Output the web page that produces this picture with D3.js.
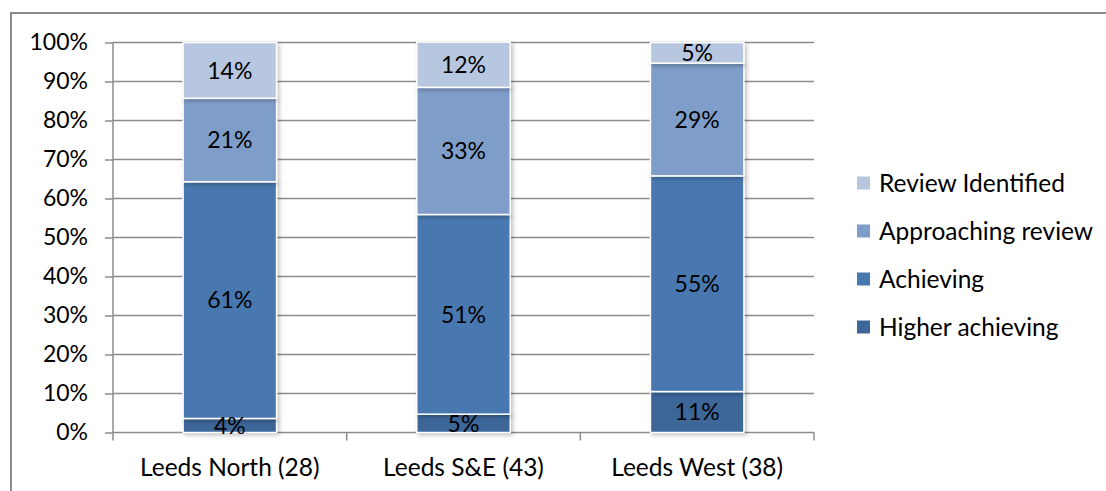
<!DOCTYPE html>
<html>
<head>
<meta charset="utf-8">
<script src="https://cdn.jsdelivr.net/npm/d3@7"></script>
<style>
  html, body { margin: 0; padding: 0; background: #fff; }
  svg { display: block; font-family: Lato, "Open Sans", sans-serif; }
</style>
</head>
<body>
<svg id="chart" width="1106" height="491"></svg>
<script>
// ---- data (percent of pupils per area) ----
const categories = ["Leeds North (28)", "Leeds S&E (43)", "Leeds West (38)"];
const seriesNames = ["Higher achieving", "Achieving", "Approaching review", "Review Identified"];
const higherAchieving = [3.6, 4.7, 10.5];
const achieving = [60.7, 51.2, 55.3];
const approachingReview = [21.4, 32.6, 28.9];
const reviewIdentified = [14.3, 11.6, 5.3];
const yTickValues = [0, 10, 20, 30, 40, 50, 60, 70, 80, 90, 100];

const colors = {
  "Higher achieving": "#3d6699",
  "Achieving": "#4878b0",
  "Approaching review": "#7f9dc9",
  "Review Identified": "#b8c7e0"
};

const rows = categories.map((c, i) => ({
  category: c,
  "Higher achieving": higherAchieving[i],
  "Achieving": achieving[i],
  "Approaching review": approachingReview[i],
  "Review Identified": reviewIdentified[i]
}));

const svg = d3.select("#chart");
const W = 1106, H = 491;
const numSize = 23;
const textSize = 24.5;

// outer frame (cropped: only top and left visible)
svg.append("path")
  .attr("d", `M11,${H} L11,13 L${W},13`)
  .attr("fill", "none").attr("stroke", "#8c8c8c").attr("stroke-width", 2);

const plotLeft = 113, plotRight = 814, plotTop = 42.5, plotBottom = 432.5;

const x = d3.scaleBand().domain(categories).range([plotLeft, plotRight])
  .paddingInner(0.6).paddingOuter(0.3);
const y = d3.scaleLinear().domain([0, 100]).range([plotBottom, plotTop]);

const defs = svg.append("defs");
const f = defs.append("filter").attr("id", "shadow")
  .attr("x", "-10%").attr("y", "-10%").attr("width", "130%").attr("height", "130%");
f.append("feDropShadow").attr("dx", 2).attr("dy", 2).attr("stdDeviation", 2)
  .attr("flood-color", "#000").attr("flood-opacity", 0.25);

// gridlines
svg.append("g").selectAll("line").data(yTickValues.filter(d => d > 0)).join("line")
  .attr("x1", plotLeft).attr("x2", plotRight)
  .attr("y1", d => y(d)).attr("y2", d => y(d))
  .attr("stroke", "#8c8c8c").attr("stroke-width", 1.5);

// y axis
const yAxis = svg.append("g").attr("transform", `translate(${plotLeft},0)`)
  .call(d3.axisLeft(y).tickValues(yTickValues).tickFormat(d => d + "%").tickSize(8).tickPadding(17));
yAxis.select(".domain").attr("stroke", "#8c8c8c").attr("stroke-width", 1.5)
  .attr("d", `M0,${plotTop}V${plotBottom}`);
yAxis.selectAll(".tick line").attr("stroke", "#8c8c8c").attr("stroke-width", 1.5);
yAxis.selectAll(".tick text").attr("font-size", numSize).attr("fill", "#000")
  .attr("font-family", "Lato, sans-serif");

// x axis baseline and category separators
svg.append("line").attr("x1", plotLeft).attr("x2", plotRight)
  .attr("y1", plotBottom).attr("y2", plotBottom)
  .attr("stroke", "#8c8c8c").attr("stroke-width", 1.5);
const boundaries = categories.map(c => x(c) - x.step() * x.paddingOuter()).concat([plotRight]);
svg.append("g").selectAll("line").data(boundaries).join("line")
  .attr("x1", d => d).attr("x2", d => d)
  .attr("y1", plotBottom).attr("y2", plotBottom + 8)
  .attr("stroke", "#8c8c8c").attr("stroke-width", 1.5);

svg.append("g").selectAll("text").data(categories).join("text")
  .attr("x", d => x(d) + x.bandwidth() / 2).attr("y", 476)
  .attr("text-anchor", "middle").attr("font-size", textSize).attr("fill", "#000")
  .text(d => d);

// stacked bars
const stack = d3.stack().keys(seriesNames);
const stacked = stack(rows);

const barsG = svg.append("g");
stacked.forEach(layer => {
  barsG.append("g").attr("filter", "url(#shadow)").selectAll("rect").data(layer).join("rect")
    .attr("x", d => x(d.data.category))
    .attr("width", x.bandwidth())
    .attr("y", d => y(d[1]))
    .attr("height", d => y(d[0]) - y(d[1]))
    .attr("fill", colors[layer.key])
    .attr("stroke", "#fff").attr("stroke-width", 1.5);
});

// data labels
stacked.forEach(layer => {
  barsG.append("g").selectAll("text").data(layer).join("text")
    .attr("x", d => x(d.data.category) + x.bandwidth() / 2)
    .attr("y", d => (y(d[0]) + y(d[1])) / 2)
    .attr("dy", "0.36em")
    .attr("text-anchor", "middle").attr("font-size", numSize).attr("fill", "#000")
    .text(d => Math.round(d[1] - d[0]) + "%");
});

// legend
const legendNames = seriesNames.slice().reverse();
const legendY = [183, 231, 279, 327];
const lg = svg.append("g");
legendNames.forEach((n, i) => {
  lg.append("rect").attr("x", 857).attr("y", legendY[i] - 6.5).attr("width", 13).attr("height", 13)
    .attr("fill", colors[n]);
  lg.append("text").attr("x", 879).attr("y", legendY[i]).attr("dy", "0.36em")
    .attr("font-size", textSize).attr("fill", "#000").text(n);
});
</script>
</body>
</html>
